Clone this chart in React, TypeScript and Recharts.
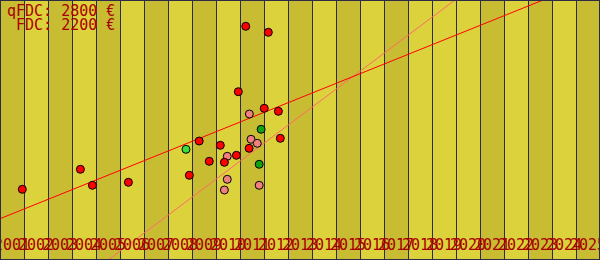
import React from 'react';
import { ComposedChart, XAxis, YAxis, Scatter, Line, ReferenceArea, ReferenceLine } from 'recharts';

// Years on the axis (one stripe per year)
const years = [2001, 2002, 2003, 2004, 2005, 2006, 2007, 2008, 2009, 2010, 2011, 2012, 2013,
  2014, 2015, 2016, 2017, 2018, 2019, 2020, 2021, 2022, 2023, 2024, 2025];
// Years drawn with the darker stripe
const darkYears = [2001, 2003, 2005, 2007, 2009, 2011, 2013, 2015, 2017, 2021, 2023, 2025];

// qFDC observations (red)
const qfdcYears = [2001.43, 2003.85, 2004.35, 2005.85, 2008.39, 2008.80, 2009.22, 2009.68, 2009.85,
  2010.35, 2010.43, 2010.74, 2010.88, 2011.51, 2011.68, 2012.10, 2012.18];
const qfdcValues = [707, 907, 747, 777, 847, 1190, 987, 1147, 977,
  1047, 1683, 2337, 1117, 1517, 2277, 1487, 1217];

// FDC observations (pink)
const fdcYears = [2009.85, 2009.97, 2009.97, 2010.89, 2010.96, 2011.22, 2011.30];
const fdcValues = [700, 807, 1037, 1460, 1207, 1167, 747];

// Other observations (green)
const otherYears = [2008.25, 2011.38, 2011.30];
const otherValues = [1107, 1307, 957];

// Trend lines
const qfdcTrendYears = [2000.5, 2025.5];
const qfdcTrendValues = [413, 2829];
const fdcTrendYears = [2005.01, 2019.46];
const fdcTrendValues = [0, 2600];

// Legend
const legendNames = ['qFDC', 'FDC'];
const legendPrices = [2800, 2200];

const toRows = (xs: number[], vs: number[]) => xs.map((x, i) => ({ year: x, value: vs[i] }));

const qfdcData = toRows(qfdcYears, qfdcValues);
const fdcData = toRows(fdcYears, fdcValues);
const otherData = toRows(otherYears, otherValues).map((d, i) => ({ ...d, light: i === 0 }));
const qfdcTrend = toRows(qfdcTrendYears, qfdcTrendValues);
const fdcTrend = toRows(fdcTrendYears, fdcTrendValues);

const LIGHT = '#dcd23c';
const DARK = '#c8bd32';
const GRID = '#2c2c44';
const TEXT = '#a80000';
const FONT = '"DejaVu Sans Mono", monospace';

const Dot = (fill: string) => (props: any) => {
  const { cx, cy } = props;
  if (cx == null || cy == null) return <g />;
  return <circle cx={cx} cy={cy} r={4} fill={fill} stroke="#000" strokeWidth={1} />;
};

const GreenDot = (props: any) => {
  const { cx, cy, payload } = props;
  if (cx == null || cy == null) return <g />;
  return <circle cx={cx} cy={cy} r={4} fill={payload && payload.light ? '#3cdc3c' : '#14a014'} stroke="#000" strokeWidth={1} />;
};

const CrispLine = (props: any) => {
  const { x1, y1, x2, y2 } = props;
  if (x1 == null) return <g />;
  return <line x1={x1 + 0.5} y1={y1} x2={x2 + 0.5} y2={y2} stroke={GRID} strokeWidth={1} shapeRendering="crispEdges" />;
};

const YearTick = (props: any) => {
  const { x, y, payload } = props;
  return (
    <text x={x} y={y - 10} textAnchor="middle" fill={TEXT} fontFamily={FONT} fontSize={15}>
      {payload.value}
    </text>
  );
};

const LegendBox = () => {
  const width = Math.max(...legendNames.map((n, i) => `${n}: ${legendPrices[i]} €`.length));
  return (
    <div style={{ position: 'absolute', left: 7, top: 5, fontFamily: FONT, fontSize: 15, lineHeight: '13.5px', color: TEXT, whiteSpace: 'pre', pointerEvents: 'none' }}>
      {legendNames.map((n, i) => (
        <div key={n}>{`${n}: ${legendPrices[i]} €`.padStart(width, ' ')}</div>
      ))}
    </div>
  );
};

export default function App() {
  return (
    <div style={{ position: 'absolute', left: 0, top: 0, width: 600, height: 260, overflow: 'hidden' }}>
      <ComposedChart width={600} height={260} margin={{ top: 0, right: 0, bottom: -20, left: 0 }}>
        <XAxis
          dataKey="year"
          type="number"
          domain={[years[0] - 0.5, years[years.length - 1] + 0.5]}
          ticks={years}
          interval={0}
          height={20}
          axisLine={false}
          tickLine={false}
          tickSize={0}
          tickMargin={0}
          tick={<YearTick />}
          allowDataOverflow
        />
        <YAxis type="number" dataKey="value" domain={[0, 2600]} hide allowDataOverflow width={0} />
        {years.map((yr) => (
          <ReferenceArea
            key={`s${yr}`}
            x1={yr - 0.5}
            x2={yr + 0.5}
            fill={darkYears.includes(yr) ? DARK : LIGHT}
            fillOpacity={1}
            stroke="none"
            ifOverflow="hidden"
            shapeRendering="crispEdges"
          />
        ))}
        {years.slice(1).map((yr) => (
          <ReferenceLine key={`l${yr}`} x={yr - 0.5} shape={<CrispLine />} />
        ))}
        <Line data={fdcTrend} dataKey="value" stroke="#ff6a6a" strokeWidth={1} dot={false} activeDot={false} isAnimationActive={false} legendType="none" />
        <Line data={qfdcTrend} dataKey="value" stroke="#ff0000" strokeWidth={1} dot={false} activeDot={false} isAnimationActive={false} legendType="none" />
        <Scatter data={otherData} dataKey="value" shape={GreenDot} isAnimationActive={false} />
        <Scatter data={fdcData} dataKey="value" shape={Dot('#f08080')} isAnimationActive={false} />
        <Scatter data={qfdcData} dataKey="value" shape={Dot('#ff0000')} isAnimationActive={false} />
      </ComposedChart>
      <LegendBox />
      <div style={{ position: 'absolute', left: 0, top: 0, width: 600, height: 260, boxSizing: 'border-box', border: `1px solid ${GRID}`, pointerEvents: 'none' }} />
    </div>
  );
}
